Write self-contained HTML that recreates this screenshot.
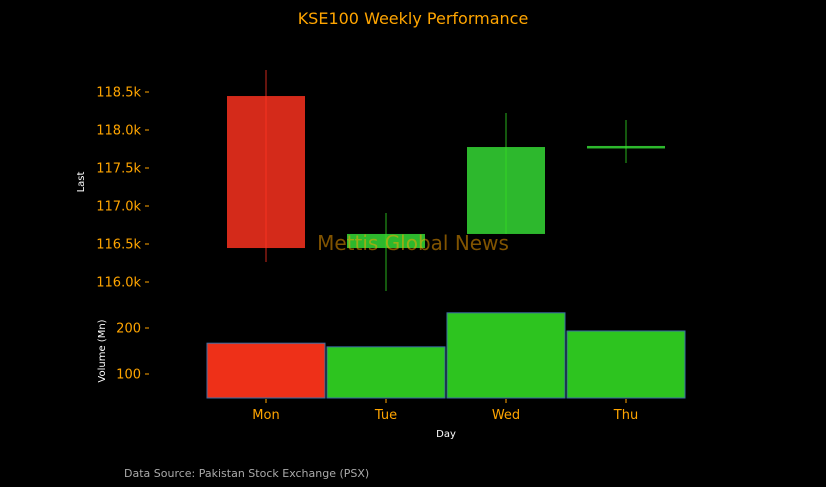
<!DOCTYPE html>
<html><head><meta charset="utf-8"><style>
html,body{margin:0;background:#000;overflow:hidden;width:826px;height:487px;}
svg{display:block;}
svg text{font-family:"DejaVu Sans","Liberation Sans",sans-serif;}
</style></head><body>
<svg width="826" height="487" viewBox="0 0 826 487" xmlns="http://www.w3.org/2000/svg">
<rect width="826" height="487" fill="#000"/>
<text x="413" y="24" text-anchor="middle" fill="#FFA500" font-size="16">KSE100 Weekly Performance</text>
<g id="price"></g>
<g id="vol"></g>
<g id="xaxis"></g>
<text transform="translate(84,182) rotate(-90)" text-anchor="middle" fill="#fff" font-size="10">Last</text>
<text transform="translate(105,351) rotate(-90)" text-anchor="middle" fill="#fff" font-size="10">Volume (Mn)</text>
<text x="446" y="437" text-anchor="middle" fill="#fff" font-size="10">Day</text>
<text x="413" y="250" text-anchor="middle" fill="#FFA500" fill-opacity="0.5" font-size="20">Mettis Global News</text>
<text x="124" y="477" fill="#aaa" font-size="11">Data Source: Pakistan Stock Exchange (PSX)</text>
</svg>
<script>
const days=["Mon","Tue","Wed","Thu"];
const opens=[118447,116447,116632,117776];
const closes=[116447,116632,117776,117790];
const highs=[118789,116908,118224,118132];
const lows=[116263,115882,116632,117566];
const volumes=[167,159,233,193.5];
const priceTicks=[116000,116500,117000,117500,118000,118500];
const priceTickLabels=["116.0k","116.5k","117.0k","117.5k","118.0k","118.5k"];
const volTicks=[100,200];
const NS="http://www.w3.org/2000/svg";
function mk(t,a,p){const e=document.createElementNS(NS,t);for(const k in a)e.setAttribute(k,a[k]);p.appendChild(e);return e;}
const xS=i=>266+i*120;
const yP=v=>282-(v-116000)*0.076;
const yV=v=>374-(v-100)*0.46;
const gp=document.getElementById('price'),gv=document.getElementById('vol'),gx=document.getElementById('xaxis');
priceTicks.forEach((t,i)=>{
 const y=yP(t);
 const l=mk('line',{x1:145,x2:149,y1:y,y2:y,stroke:'#FFA500'},gp);
 
 const tx=mk('text',{x:141,y:y+4.5,'text-anchor':'end',fill:'#FFA500','font-size':13},gp);
 
 tx.textContent=priceTickLabels[i];
});
volTicks.forEach(t=>{
 const y=yV(t);
 const l=mk('line',{x1:145,x2:149,y1:y,y2:y,stroke:'#FFA500'},gv);
 
 const tx=mk('text',{x:141,y:y+4.5,'text-anchor':'end',fill:'#FFA500','font-size':13},gv);
 
 tx.textContent=String(t);
});
days.forEach((d,i)=>{
 const x=xS(i),up=closes[i]>=opens[i];
 const col=up?'#2DB82D':'#D42A1A';
 const top=yP(Math.max(opens[i],closes[i])),bot=yP(Math.min(opens[i],closes[i]));
 const b=mk('rect',{x:x-39,y:top,width:78,height:Math.max(bot-top,2.5),fill:col},gp);
 
 const w=mk('line',{x1:x,x2:x,y1:yP(highs[i]),y2:yP(lows[i]),stroke:up?'#33dd22':'#ff3322','stroke-width':1,'stroke-opacity':0.8},gp);
 
 const vb=yV(volumes[i]);
 const vr=mk('rect',{x:x-59,y:vb,width:118,height:398-vb,fill:up?'#2DC41F':'#EE3018',stroke:'#3a6ea5','stroke-width':1},gv);
 
 const tk=mk('line',{x1:x,x2:x,y1:399,y2:403,stroke:'#FFA500'},gx);
 
 const tx=mk('text',{x:x,y:419,'text-anchor':'middle',fill:'#FFA500','font-size':13},gx);
 
 tx.textContent=d;
});
</script>
</body></html>
